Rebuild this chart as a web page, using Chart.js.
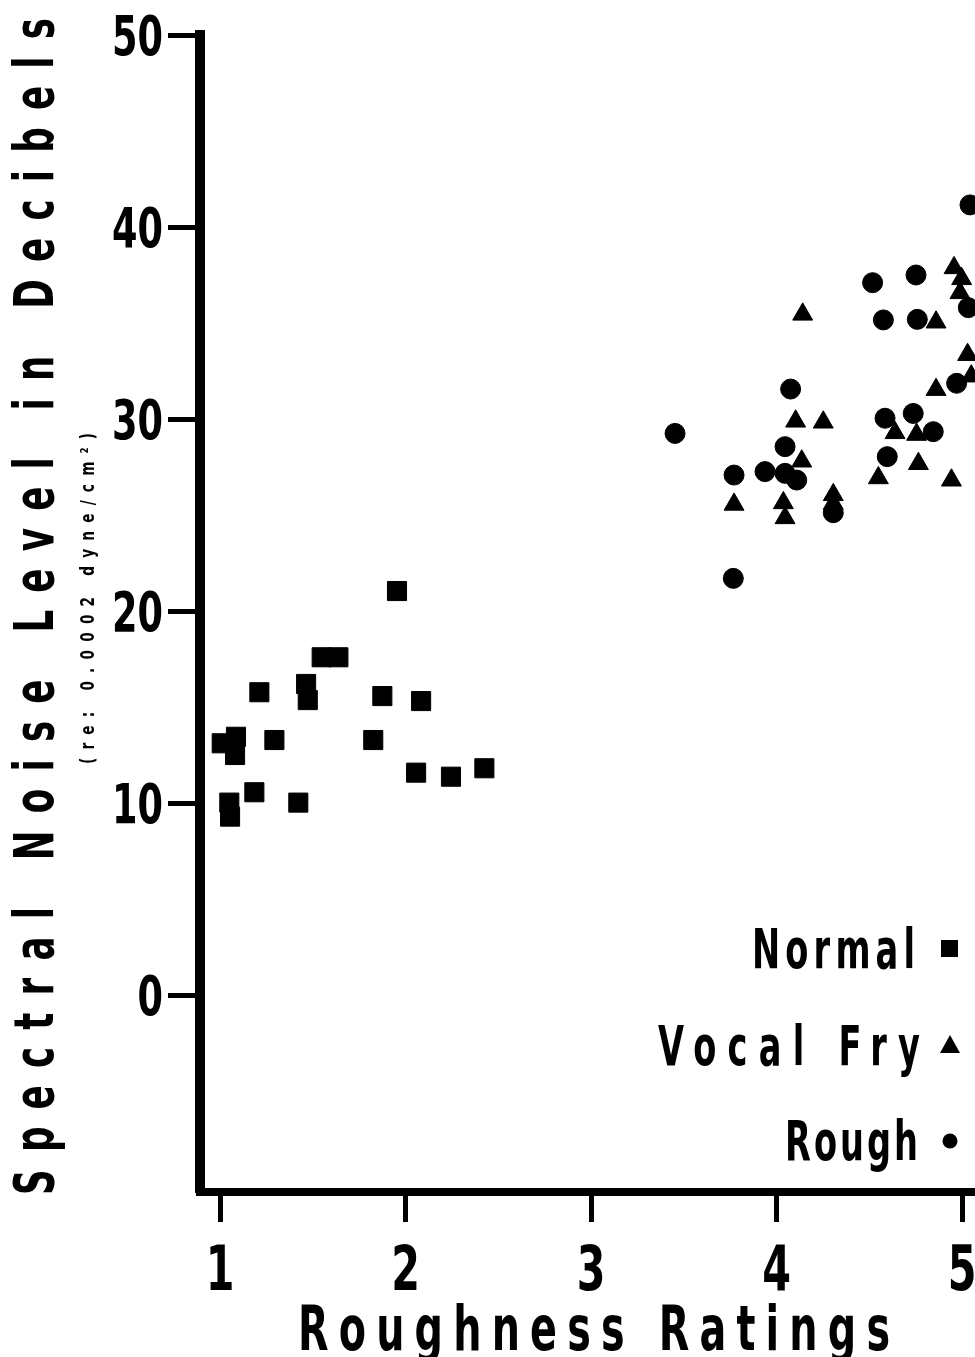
<!DOCTYPE html>
<html>
<head>
<meta charset="utf-8">
<script src="https://cdn.jsdelivr.net/npm/chart.js@4/dist/chart.umd.min.js"></script>
<style>
    html, body { margin: 0; padding: 0; background: #fff; overflow: hidden; }
    canvas { display: block; }
</style>
</head>
<body>
<canvas id="chart" width="975" height="1357"></canvas>
<script>
// Tick values
const xTicks = [1, 2, 3, 4, 5];
const yTicks = [0, 10, 20, 30, 40, 50];

// Normal voices (squares)
const normalX = [1.954, 1.548, 1.638, 1.212, 1.464, 1.473, 1.875, 2.084, 1.009, 1.086,
                 1.081, 1.293, 1.826, 2.057, 2.245, 2.425, 1.185, 1.050, 1.054, 1.422];
const normalY = [21.04, 17.59, 17.59, 15.77, 16.20, 15.36, 15.57, 15.31, 13.11, 13.45,
                 12.50, 13.28, 13.28, 11.58, 11.37, 11.81, 10.56, 10.02, 9.29, 10.02];

// Vocal fry (triangles)
const fryX = [4.141, 4.957, 4.998, 4.989, 4.860, 5.030, 4.860, 5.050, 4.103, 4.252, 4.639,
              4.755, 4.136, 4.765, 4.549, 4.943, 3.771, 4.037, 4.046, 4.306, 4.306];
const fryY = [35.45, 37.87, 37.30, 36.57, 35.04, 33.35, 31.53, 32.23, 29.88, 29.83, 29.28,
              29.19, 27.80, 27.67, 26.93, 26.81, 25.55, 25.63, 24.85, 26.05, 25.60];

// Rough voices (circles)
const roughX = [5.043, 4.518, 4.752, 4.576, 4.759, 5.034, 4.076, 3.453, 4.046, 3.771,
                3.938, 4.046, 4.109, 4.306, 3.767, 4.585, 4.737, 4.845, 4.597, 4.971];
const roughY = [41.15, 37.10, 37.50, 35.16, 35.19, 35.80, 31.56, 29.25, 28.56, 27.08,
                27.26, 27.17, 26.82, 25.12, 21.70, 30.04, 30.29, 29.34, 28.04, 31.86];

const FONT = '"DejaVu Sans Condensed", "DejaVu Sans", sans-serif';

const toPoints = (xs, ys) => xs.map((x, i) => ({ x: x, y: ys[i] }));

// Condensed bold text; optional span spreads the letters out like the original lettering
function drawText(ctx, text, x, y, o) {
    ctx.save();
    ctx.font = `bold ${o.size}px ${FONT}`;
    ctx.textBaseline = "alphabetic";
    ctx.letterSpacing = "0px";
    const n = [...text].length;
    const w = ctx.measureText(text).width;
    let gap = 0;
    if (o.span && n > 1) gap = (o.span / o.sx - w) / (n - 1);
    const total = (w + gap * (n - 1)) * o.sx;
    let left = x;
    if (o.align === "right") left = x - total;
    else if (o.align === "center") left = x - total / 2;
    ctx.translate(left, y);
    ctx.scale(o.sx, 1);
    ctx.letterSpacing = gap + "px";
    ctx.textAlign = "left";
    ctx.fillText(text, 0, 0);
    ctx.restore();
}

// Tick labels, axis titles and the legend, placed like the original figure
const labelsPlugin = {
    id: "labels",
    afterDraw(chart) {
        const ctx = chart.ctx;
        const xs = chart.scales.x;
        const ys = chart.scales.y;
        ctx.save();
        ctx.fillStyle = "#000";

        xs.ticks.forEach(t => {
            drawText(ctx, String(t.value), xs.getPixelForValue(t.value), 1290,
                     { size: 62, sx: 0.74, align: "center" });
        });
        ys.ticks.forEach(t => {
            drawText(ctx, String(t.value), 163, ys.getPixelForValue(t.value) + 20,
                     { size: 55, sx: 0.74, align: "right" });
        });

        // x axis title
        drawText(ctx, "Roughness Ratings", 298, 1350, { size: 63, sx: 0.7, span: 592 });

        // y axis title + reference note, rotated
        ctx.save();
        ctx.rotate(-Math.PI / 2);
        drawText(ctx, "Spectral Noise Level in Decibels", -1195, 53, { size: 55, sx: 0.72, span: 1177 });
        drawText(ctx, "(re: 0.0002 dyne/cm\u00b2)", -764, 94, { size: 19, sx: 0.8, span: 331 });
        ctx.restore();

        // legend
        drawText(ctx, "Normal", 752, 968, { size: 55, sx: 0.68, span: 163 });
        drawText(ctx, "Vocal Fry", 658, 1065, { size: 55, sx: 0.68, span: 262 });
        drawText(ctx, "Rough", 785, 1160, { size: 55, sx: 0.68, span: 133 });

        ctx.fillRect(941, 940, 17, 17);
        ctx.beginPath();
        ctx.moveTo(950, 1035);
        ctx.lineTo(960, 1053);
        ctx.lineTo(940, 1053);
        ctx.closePath();
        ctx.fill();
        ctx.beginPath();
        ctx.arc(950, 1141, 7.5, 0, Math.PI * 2);
        ctx.fill();

        ctx.restore();
    }
};

const ctx = document.getElementById("chart").getContext("2d");

new Chart(ctx, {
    type: "scatter",
    data: {
        datasets: [
            {
                label: "Normal",
                data: toPoints(normalX, normalY),
                pointStyle: "rect",
                pointRadius: 13.5,
                backgroundColor: "#000",
                borderColor: "#000",
                borderWidth: 1
            },
            {
                label: "Vocal Fry",
                data: toPoints(fryX, fryY),
                pointStyle: "triangle",
                pointRadius: 11.5,
                backgroundColor: "#000",
                borderColor: "#000",
                borderWidth: 1
            },
            {
                label: "Rough",
                data: toPoints(roughX, roughY),
                pointStyle: "circle",
                pointRadius: 10,
                backgroundColor: "#000",
                borderColor: "#000",
                borderWidth: 1
            }
        ]
    },
    options: {
        responsive: false,
        animation: false,
        events: [],
        layout: {
            autoPadding: false,
            padding: { top: 35, left: 0, right: 0, bottom: 0 }
        },
        plugins: {
            legend: { display: false },
            tooltip: { enabled: false }
        },
        scales: {
            x: {
                type: "linear",
                min: 0.892,
                max: 5.07,
                afterBuildTicks: scale => { scale.ticks = xTicks.map(v => ({ value: v })); },
                afterFit: scale => {
                    scale.height = 165;
                    scale.paddingLeft = 0;
                    scale.paddingRight = 0;
                },
                ticks: { display: false },
                grid: {
                    drawOnChartArea: false,
                    drawTicks: true,
                    tickLength: 30,
                    tickWidth: 5,
                    tickColor: "#000"
                },
                border: { display: true, width: 8, color: "#000" }
            },
            y: {
                type: "linear",
                min: -10.26,
                max: 50,
                afterBuildTicks: scale => { scale.ticks = yTicks.map(v => ({ value: v })); },
                afterFit: scale => {
                    scale.width = 200;
                    scale.paddingTop = 0;
                    scale.paddingBottom = 0;
                },
                ticks: { display: false },
                grid: {
                    drawOnChartArea: false,
                    drawTicks: true,
                    tickLength: 32,
                    tickWidth: 5,
                    tickColor: "#000"
                },
                border: { display: true, width: 10, color: "#000" }
            }
        }
    },
    plugins: [labelsPlugin]
});
</script>
</body>
</html>
